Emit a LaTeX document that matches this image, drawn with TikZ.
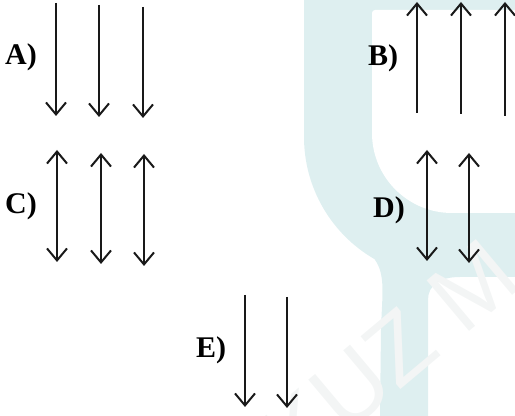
\documentclass[tikz,border=0pt]{standalone}
\usepackage{fontspec}
\setmainfont{Liberation Serif}
\setsansfont{Liberation Sans}
\usetikzlibrary{arrows.meta}

\definecolor{wmteal}{RGB}{222,239,240}
\definecolor{wmgray}{RGB}{243,245,245}

\begin{document}
\begin{tikzpicture}[
  x=0.5pt, y=-0.5pt,
  >={Straight Barb[length=6pt, width=10pt]},
  lbl/.style={font=\fontsize{15}{17}\selectfont\bfseries, inner sep=0pt},
  vec/.style={->, line width=1pt, draw=black!90},
  dvec/.style={<->, line width=1pt, draw=black!90},
  wmark/.style={font=\sffamily\fontsize{48}{50}\selectfont, text=wmgray, inner sep=0pt}
]
\useasboundingbox (0,0) rectangle (515,416);

% === WATERMARK (background) ===
\fill[wmteal] (304,0) -- (304,137) arc[start angle=180, end angle=120, radius=141]
  .. controls (386,275) and (382,295) .. (381,330) -- (380,416) -- (428,416)
  -- (428,300) .. controls (428,285) and (440,277) .. (460,277) -- (515,277)
  -- (515,0) -- cycle;
\fill[white] (515,10) -- (375,10) arc[start angle=-90, end angle=-180, radius=3]
  -- (372,133) arc[start angle=180, end angle=90, radius=80] -- (515,213) -- cycle;
\node[wmark, rotate=40] (wmText) at (390,356) {KUZ M};

% === A: three arrows down ===
\node[lbl] (labA) at (21,57) {A)};
\foreach \x/\t/\b in {56/3/116, 99/5/117, 143/7/118}
  \draw[vec] (\x,\t) -- (\x,\b);

% === B: three arrows up ===
\node[lbl] (labB) at (383,58) {B)};
\foreach \x/\b in {417/113, 461/114, 505/116}
  \draw[vec] (\x,\b) -- (\x,2);

% === C: three double arrows ===
\node[lbl] (labC) at (21,206) {C)};
\foreach \x/\t/\b in {57/150/262, 101/153/264, 144/154/266}
  \draw[dvec] (\x,\t) -- (\x,\b);

% === D: two double arrows ===
\node[lbl] (labD) at (389,210) {D)};
\foreach \x/\t/\b in {427/150/261, 469/153/263}
  \draw[dvec] (\x,\t) -- (\x,\b);

% === E: two arrows down ===
\node[lbl] (labE) at (211,350) {E)};
\foreach \x/\t/\b in {245/295/407, 287/297/408}
  \draw[vec] (\x,\t) -- (\x,\b);

\end{tikzpicture}
\end{document}
